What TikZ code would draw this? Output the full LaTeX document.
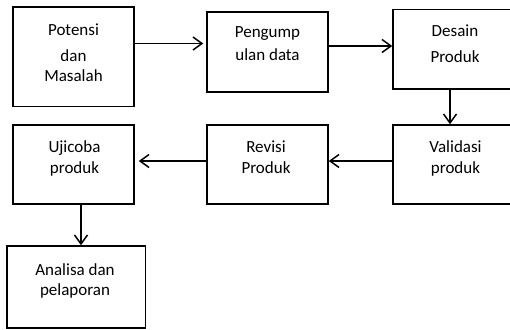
\documentclass[tikz,border=0pt]{standalone}
\usepackage{fontspec}
\setmainfont{Carlito}
\usetikzlibrary{arrows.meta}
\begin{document}
\begin{tikzpicture}[x=1pt,y=-1pt,
  box/.style={draw,line width=1.5pt,rectangle,inner sep=0pt},
  lbl/.style={align=center,anchor=base,inner sep=0pt,font=\fontsize{17}{20}\selectfont},
  arr/.style={line width=1.5pt,-{Straight Barb[length=9pt,width=13pt]}}]
\useasboundingbox (0,0) rectangle (510,329);
\clip (0,0) rectangle (510,329);
% boxes
\node[box,minimum width=121pt,minimum height=99.5pt] (b1) at (73.5,56.75) {};
\node[box,minimum width=121pt,minimum height=80pt] (b2) at (267.5,52) {};
\node[box,minimum width=127pt,minimum height=79.5pt] (b3) at (456.5,49.25) {};
\node[box,minimum width=127pt,minimum height=79pt] (b4) at (456.5,164.5) {};
\node[box,minimum width=121pt,minimum height=79pt] (b5) at (267.5,164.5) {};
\node[box,minimum width=121pt,minimum height=79pt] (b6) at (73.5,164.5) {};
\node[box,minimum width=138.5pt,minimum height=82pt] (b7) at (76.25,287) {};
% labels (anchored at the baseline of the last line)
\node[lbl] (t1) at (73.5,81.7) {Potensi\\[6.7pt]dan\\Masalah};
\node[lbl] (t2) at (267.5,60) {Pengump\\[3pt]ulan data};
\node[lbl] (t3) at (455,62) {Desain\\[5pt]Produk};
\node[lbl] (t4) at (455.5,173) {Validasi\\[1pt]produk};
\node[lbl] (t5) at (266,173) {Revisi\\[1pt]Produk};
\node[lbl] (t6) at (74.5,173) {Ujicoba\\[1pt]produk};
\node[lbl] (t7) at (75,295) {Analisa dan\\pelaporan};
% arrows
\draw[arr,shorten >=3pt] ([yshift=13.25pt]b1.east) coordinate (s1) -- (b2.west |- s1);
\draw[arr] ([yshift=6pt]b2.east) coordinate (s2) -- (b3.west |- s2);
\draw[arr] ([xshift=-6.5pt]b3.south) coordinate (s3) -- (b4.north -| s3);
\draw[arr] ([yshift=3.5pt]b4.west) coordinate (s4) -- (b5.east |- s4);
\draw[arr,shorten >=4pt] ([yshift=3.5pt]b5.west) coordinate (s5) -- (b6.east |- s5);
\draw[arr] ([xshift=7.5pt]b6.south) coordinate (s6) -- (b7.north -| s6);
\end{tikzpicture}
\end{document}
